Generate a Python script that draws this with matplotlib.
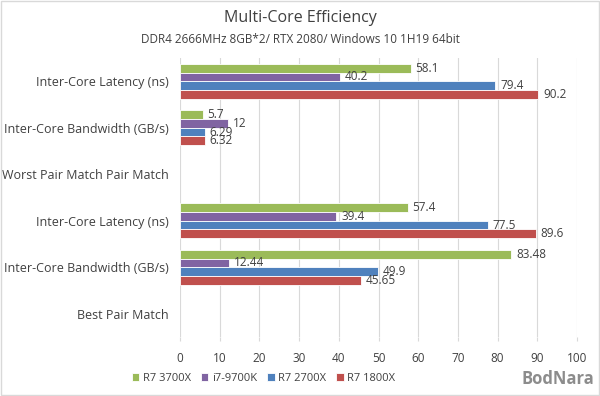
import numpy as np
import matplotlib.pyplot as plt

categories = ["Inter-Core Latency (ns)", "Inter-Core Bandwidth (GB/s)",
              "Worst Pair Match Pair Match", "Inter-Core Latency (ns)",
              "Inter-Core Bandwidth (GB/s)", "Best Pair Match"]
series = ["R7 3700X", "i7-9700K", "R7 2700X", "R7 1800X"]
colors = ["#9BBB59", "#8064A2", "#4F81BD", "#C0504D"]

# None = no bar in that slot
r7_3700x = [58.1, 5.7, None, 57.4, 83.48, None]
i7_9700k = [40.2, 12, None, 39.4, 12.44, None]
r7_2700x = [79.4, 6.29, None, 77.5, 49.9, None]
r7_1800x = [90.2, 6.32, None, 89.6, 45.65, None]
labels_txt = [
    ["58.1", "5.7", "", "57.4", "83.48", ""],
    ["40.2", "12", "", "39.4", "12.44", ""],
    ["79.4", "6.29", "", "77.5", "49.9", ""],
    ["90.2", "6.32", "", "89.6", "45.65", ""],
]
values = [r7_3700x, i7_9700k, r7_2700x, r7_1800x]

plt.rcParams['font.family'] = ['Open Sans', 'DejaVu Sans']

fig = plt.figure(figsize=(6, 3.96), dpi=100)
fig.patches.append(plt.Rectangle((0.002, 0.002), 0.996, 0.996, transform=fig.transFigure,
                                 fill=False, edgecolor="#d9d9d9", linewidth=1))
ax = fig.add_axes([0.3, 0.149, 0.6617, 0.7045])

n = len(categories)
bh = 0.75 / 4
y = np.arange(n)
for i, (name, vals, c) in enumerate(zip(series, values, colors)):
    ys = y - 0.375 + bh * (i + 0.5)
    for j, v in enumerate(vals):
        if v is None:
            continue
        ax.barh(ys[j], v, height=bh, color=c, edgecolor="white", linewidth=0.6,
                label=name if j == 0 else None)
        ax.text(v + 1.2, ys[j], labels_txt[i][j], va="center", ha="left",
                fontsize=8.5, color="#404040")

ax.set_xlim(0, 100)
ax.set_ylim(n - 0.5, -0.5)
ax.set_xticks(np.arange(0, 101, 10))
ax.set_yticks(y)
ax.set_yticklabels(categories, fontsize=9, color="#404040")
ax.tick_params(axis="y", length=0, pad=8)
ax.tick_params(axis="x", length=3, color="#d9d9d9", labelsize=8.5, labelcolor="#404040", pad=8)
ax.grid(axis="x", color="#d9d9d9", linewidth=0.8)
ax.set_axisbelow(True)
for s in ax.spines.values():
    s.set_visible(False)

fig.text(0.5, 0.955, "Multi-Core Efficiency", ha="center", va="center",
         fontsize=11.5, color="#404040")
fig.text(0.5, 0.9, "DDR4 2666MHz 8GB*2/ RTX 2080/ Windows 10 1H19 64bit", ha="center",
         va="center", fontsize=8.5, color="#404040")

ax.legend(loc="center", bbox_to_anchor=(0.21, -0.147), ncol=4, frameon=False,
          fontsize=8, handlelength=0.7, handleheight=0.7, columnspacing=0.9,
          handletextpad=0.3, labelcolor="#404040")

fig.text(0.99, 0.02, "BodNara", ha="right", va="bottom", fontsize=12,
         fontweight="bold", color="#8c8c8c")

fig.savefig("out.png", dpi=100)
